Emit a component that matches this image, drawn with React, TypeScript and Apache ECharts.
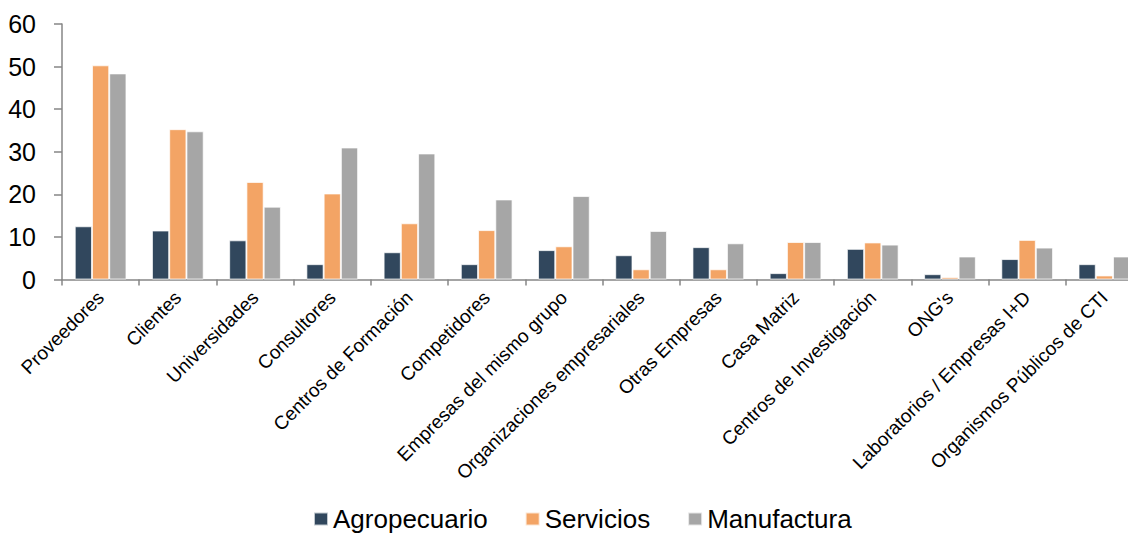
import React, { useEffect, useRef } from "react";
import * as echarts from "echarts";

const categories = [
  "Proveedores",
  "Clientes",
  "Universidades",
  "Consultores",
  "Centros de Formación",
  "Competidores",
  "Empresas del mismo grupo",
  "Organizaciones empresariales",
  "Otras Empresas",
  "Casa Matriz",
  "Centros de Investigación",
  "ONG's",
  "Laboratorios / Empresas I+D",
  "Organismos Públicos de CTI",
];

const agropecuario = [12.5, 11.5, 9.2, 3.6, 6.4, 3.6, 6.9, 5.7, 7.6, 1.5, 7.2, 1.25, 4.8, 3.6];
const servicios = [50.3, 35.3, 22.9, 20.2, 13.2, 11.6, 7.8, 2.4, 2.4, 8.8, 8.7, 0.55, 9.3, 0.95];
const manufactura = [48.4, 34.8, 17.1, 31.0, 29.6, 18.8, 19.6, 11.4, 8.5, 8.8, 8.2, 5.4, 7.5, 5.4];

const seriesNames = ["Agropecuario", "Servicios", "Manufactura"];
const colors = ["#31475D", "#F3A465", "#A6A6A6"];

export default function App() {
  const ref = useRef<HTMLDivElement>(null);
  useEffect(() => {
    if (!ref.current) return;
    const chart = echarts.init(ref.current, undefined, { renderer: "svg" });
    const font = "'Liberation Sans', Arial, sans-serif";
    const data = [agropecuario, servicios, manufactura];
    chart.setOption({
      animation: false,
      textStyle: { fontFamily: font },
      grid: {
        left: 62,
        top: 24,
        right: -15,
        bottom: 255.5,
        containLabel: false,
        outerBoundsMode: "none",
      },
      legend: {
        data: seriesNames,
        left: 308,
        top: 501,
        itemWidth: 14,
        itemHeight: 13,
        itemGap: 37,
        icon: "rect",
        textStyle: { fontSize: 26, color: "#000", fontFamily: font },
      },
      xAxis: {
        type: "category",
        data: categories,
        axisLine: { show: true, lineStyle: { color: "#868686", width: 1.5 } },
        axisTick: { show: true, length: 6, lineStyle: { color: "#868686", width: 1.5 } },
        axisLabel: {
          interval: 0,
          rotate: 45,
          fontSize: 19,
          color: "#000",
          margin: 15,
          fontFamily: font,
        },
      },
      yAxis: {
        type: "value",
        min: 0,
        max: 60,
        interval: 10,
        splitLine: { show: false },
        axisLine: { show: true, lineStyle: { color: "#868686", width: 1.5 } },
        axisTick: { show: true, length: 8, lineStyle: { color: "#868686", width: 1.5 } },
        axisLabel: { fontSize: 25, color: "#000", margin: 26, fontFamily: font },
      },
      series: seriesNames.map((name, i) => ({
        name,
        type: "bar",
        data: data[i],
        barGap: "0%",
        barCategoryGap: "33%",
        itemStyle: {
          color: colors[i],
          borderColor: "rgba(255,255,255,0.7)",
          borderWidth: 1,
        },
      })),
    });
    return () => chart.dispose();
  }, []);
  return (
    <div
      ref={ref}
      style={{ position: "fixed", left: 0, top: 0, width: 1128, height: 535, background: "#fff" }}
    />
  );
}
